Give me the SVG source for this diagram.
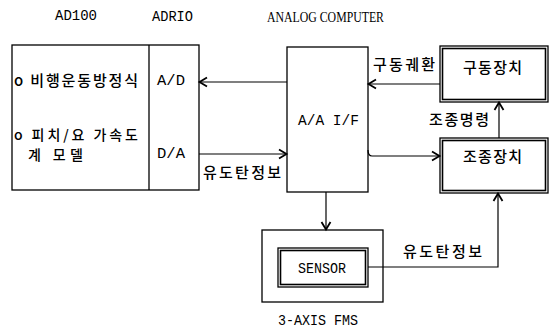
<svg xmlns="http://www.w3.org/2000/svg" width="549" height="329" viewBox="0 0 549 329">
<style>
.b{fill:none;stroke:#000;stroke-width:1.3}
.in{fill:none;stroke:#000;stroke-width:1.6}
.c{fill:none;stroke:#000;stroke-width:1.2}
.ar{marker-end:url(#ah)}
.m{font-family:"Liberation Mono",monospace;font-size:14px;fill:#000}
.s{font-family:"Liberation Serif",serif;font-size:15px;fill:#000}
.k{font-family:"Noto Sans CJK KR","Noto Sans",sans-serif;font-size:15px;fill:#000;font-weight:500}
.k2{font-family:"Noto Sans CJK KR","Noto Sans",sans-serif;font-size:14px;fill:#000;font-weight:500}
</style>
<defs>
<marker id="ah" markerWidth="12" markerHeight="12" refX="9" refY="6" orient="auto" markerUnits="userSpaceOnUse">
<path d="M2,1.5 L9.5,6 L2,10.5" fill="none" stroke="#000" stroke-width="1.8"/>
</marker>
</defs>
<rect width="549" height="329" fill="#fff"/>
<text class="m" x="55" y="20" textLength="42" lengthAdjust="spacingAndGlyphs">AD100</text>
<text class="m" x="152" y="21" textLength="41" lengthAdjust="spacingAndGlyphs">ADRIO</text>
<text class="s" x="267" y="22" textLength="117" lengthAdjust="spacingAndGlyphs">ANALOG COMPUTER</text>

<g id="ad100">
<rect class="b" x="12" y="45" width="187" height="145"/>
<line class="b" x1="149" y1="45" x2="149" y2="190"/>
<text class="k" x="14" y="85.5" textLength="124">o 비행운동방정식</text>
<text class="k2" x="14" y="140" textLength="124">o 피치/요 가속도</text>
<text class="k2" x="28" y="160" textLength="55">계 모델</text>
<text class="m" x="157" y="85" textLength="28" lengthAdjust="spacingAndGlyphs">A/D</text>
<text class="m" x="157" y="158" textLength="28" lengthAdjust="spacingAndGlyphs">D/A</text>
</g>

<g id="aaif">
<rect class="b" x="287" y="47" width="81" height="145"/>
<text class="m" x="298" y="125" textLength="61" lengthAdjust="spacingAndGlyphs" style="font-size:15px">A/A I/F</text>
</g>

<g id="gudong">
<rect class="b" x="440" y="46" width="108" height="56"/>
<rect class="in" x="442.5" y="48.5" width="103" height="51"/>
<text class="k" x="463" y="73" textLength="59">구동장치</text>
</g>

<g id="jojong">
<rect class="b" x="440" y="138" width="108" height="55"/>
<rect class="in" x="442.5" y="140.5" width="103" height="50"/>
<text class="k" x="463" y="162" textLength="59">조종장치</text>
</g>

<g id="fms">
<rect class="b" x="262" y="230" width="121" height="72"/>
<text class="m" x="278" y="325" textLength="80" lengthAdjust="spacingAndGlyphs">3-AXIS FMS</text>
</g>

<g id="sensor">
<rect class="b" x="278" y="248" width="90" height="39"/>
<rect class="in" x="280.5" y="250.5" width="85" height="34"/>
<text class="m" x="298" y="273" textLength="48" lengthAdjust="spacingAndGlyphs">SENSOR</text>
</g>

<g id="connectors">
<line class="c ar" x1="287" y1="82" x2="200" y2="82"/>
<line class="c ar" x1="199" y1="154" x2="286" y2="154"/>
<line class="c ar" x1="440" y1="84" x2="369" y2="84"/>
<path class="c ar" d="M368,150 Q368,156 372,156 L439,156"/>
<line class="c ar" x1="499" y1="138" x2="499" y2="103"/>
<line class="c ar" x1="326" y1="192" x2="326" y2="229"/>
<path class="c ar" d="M368,267 L498,267 L498,194"/>
<text class="k" x="373" y="70" textLength="62">구동궤환</text>
<text class="k" x="429" y="125" textLength="60">조종명령</text>
<text class="k" x="203" y="178" textLength="78">유도탄정보</text>
<text class="k" x="403" y="257" textLength="79">유도탄정보</text>
</g>
</svg>
